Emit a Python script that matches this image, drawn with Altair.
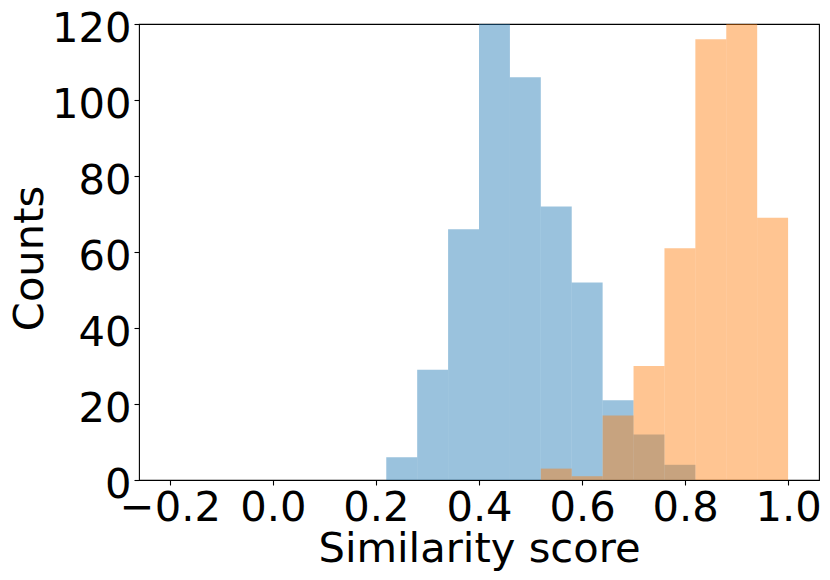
import altair as alt
import pandas as pd

# Histogram bin edges (shared by both series)
bin_edges = [0.22, 0.28, 0.34, 0.40, 0.46, 0.52, 0.58, 0.64, 0.70, 0.76, 0.82, 0.88, 0.94, 1.00]
# Counts per bin (tallest bars are clipped at 120 in the reference)
blue_counts = [6, 29, 66, 134, 106, 72, 52, 21, 12, 4, 0, 0, 0]
orange_counts = [0, 0, 0, 0, 0, 3, 1, 17, 30, 61, 116, 127, 69]

x_ticks = [-0.2, 0.0, 0.2, 0.4, 0.6, 0.8, 1.0]
y_ticks = [0, 20, 40, 60, 80, 100, 120]
x_domain = [-0.26, 1.06]
y_domain = [0, 120]

FONT = "DejaVu Sans"
FS = 41.67


def frame(counts):
    rows = []
    for i, c in enumerate(counts):
        if c > 0:
            rows.append({"start": bin_edges[i], "end": bin_edges[i + 1], "count": c})
    return pd.DataFrame(rows)


x_axis = alt.Axis(
    values=x_ticks, format=".1f", grid=False, domain=False,
    labelFontSize=FS, labelFont=FONT, labelColor="black", labelPadding=2,
    labelFlush=False, labelOverlap=False,
    tickSize=5, tickWidth=1.1, tickColor="black",
    title="Similarity score", titleFont=FONT, titleFontSize=FS,
    titleFontWeight="normal", titleColor="black",
    titleBaseline="alphabetic", titleY=81,
)
y_axis = alt.Axis(
    values=y_ticks, grid=False, domain=False,
    labelFontSize=FS, labelFont=FONT, labelColor="black", labelPadding=3,
    labelBaseline="middle", labelOffset=4, labelFlush=False, labelOverlap=False,
    tickSize=5, tickWidth=1.1, tickColor="black",
    title="Counts", titleFont=FONT, titleFontSize=FS,
    titleFontWeight="normal", titleColor="black",
    titleBaseline="alphabetic", titleAlign="center", titleX=-97, titleY=234,
)


def layer(counts, color):
    return alt.Chart(frame(counts)).mark_rect(
        color=color, opacity=0.45, clip=True, strokeWidth=0
    ).encode(
        x=alt.X("start:Q", scale=alt.Scale(domain=x_domain, nice=False, zero=False), axis=x_axis),
        x2="end:Q",
        y=alt.Y("count:Q", scale=alt.Scale(domain=y_domain, nice=False), axis=y_axis),
        y2=alt.datum(0),
    )


chart = alt.layer(
    layer(blue_counts, "#1f77b4"),
    layer(orange_counts, "#ff7f0e"),
).properties(
    width=680, height=456,
    autosize=alt.AutoSizeParams(type="none"),
    padding={"left": 131, "top": 16, "right": 3, "bottom": 92},
).configure(
    background="white",
    view=alt.ViewConfig(stroke="black", strokeWidth=1.1),
)

chart.save("out.html", embed_options={"renderer": "svg", "actions": False})
